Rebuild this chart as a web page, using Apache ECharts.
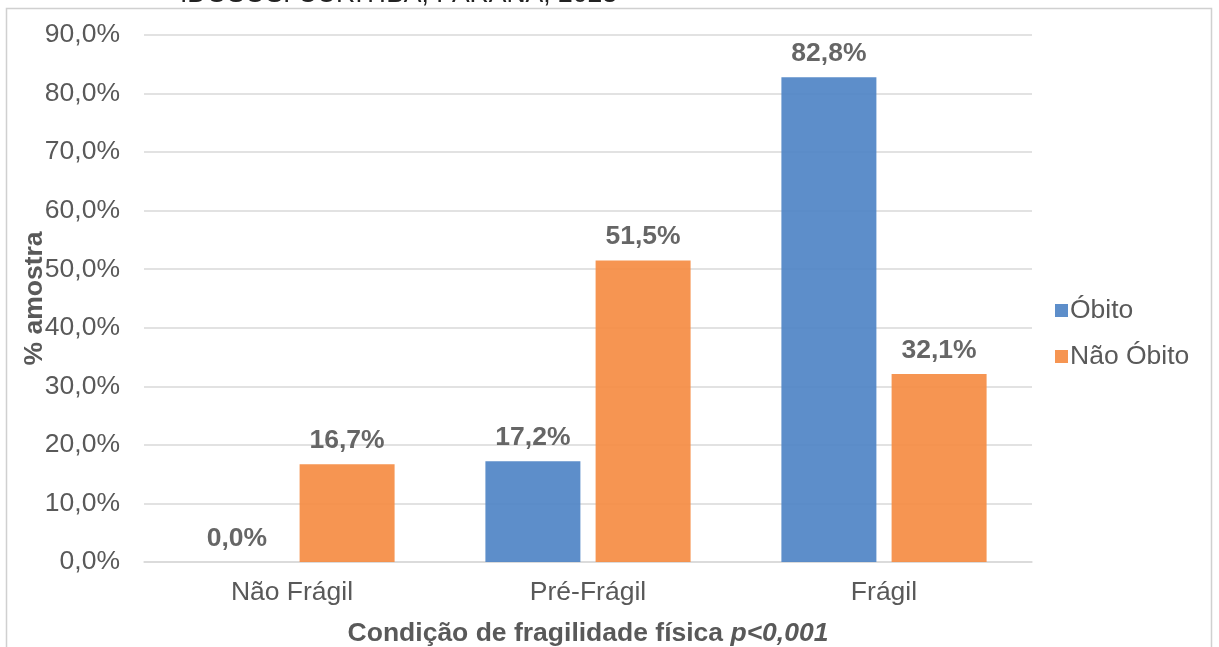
<!DOCTYPE html>
<html>
<head>
<meta charset="utf-8">
<script src="https://cdn.jsdelivr.net/npm/echarts@6/dist/echarts.min.js"></script>
<style>
  html, body { margin: 0; padding: 0; background: #fff; }
  #chart { width: 1219px; height: 647px; }
</style>
</head>
<body>
<div id="chart"></div>
<script>
// Fragility categories and the share of each outcome group (%)
const categories = ['Não Frágil', 'Pré-Frágil', 'Frágil'];
const seriesNames = ['Óbito', 'Não Óbito'];
const obito = [0.0, 17.2, 82.8];
const naoObito = [16.7, 51.5, 32.1];
const yTicks = { min: 0, max: 90, interval: 10 };

const FONT = '"Liberation Sans", Arial, sans-serif';
const GREY = '#595959';
const FS = 26.5;

const fmt = v => v.toFixed(1).replace('.', ',') + '%';

const chart = echarts.init(document.getElementById('chart'), null, { renderer: 'canvas' });

const labelStyle = {
  show: true,
  position: 'top',
  distance: 10,
  fontFamily: FONT,
  fontSize: FS,
  fontWeight: 'bold',
  color: GREY,
  formatter: p => fmt(p.value)
};

chart.setOption({
  animation: false,
  backgroundColor: '#fff',
  textStyle: { fontFamily: FONT },
  graphic: [
    {
      type: 'rect',
      shape: { x: 6.5, y: 8.5, width: 1205, height: 700 },
      style: { fill: 'none', stroke: '#d0d0d0', lineWidth: 1.5 },
      z: -1
    },
    {
      type: 'text',
      style: {
        x: 180,
        y: -5,
        verticalAlign: 'middle',
        text: 'IDOSOS. CURITIBA, PARANÁ, 2023',
        font: FS + 'px ' + FONT,
        fill: '#222'
      }
    }
  ],
  grid: { left: 144, right: 187, top: 35, bottom: 85, outerBoundsMode: 'none', containLabel: false },
  legend: {
    orient: 'vertical',
    left: 1050,
    top: 292,
    itemWidth: 13,
    itemHeight: 13,
    itemGap: 19,
    icon: 'rect',
    textStyle: { fontFamily: FONT, fontSize: FS, color: GREY, padding: [0, 0, 0, -3] },
    data: seriesNames
  },
  xAxis: {
    type: 'category',
    data: categories,
    axisLine: { lineStyle: { color: '#d9d9d9', width: 1.5 } },
    axisTick: { show: false },
    axisLabel: { fontFamily: FONT, fontSize: FS, color: GREY, margin: 17 },
    name: '{b|Condição de fragilidade física }{i|p<0,001}',
    nameLocation: 'middle',
    nameGap: 58,
    nameMoveOverlap: false,
    nameTextStyle: {
      rich: {
        b: { fontFamily: FONT, fontSize: FS, fontWeight: 'bold', color: GREY },
        i: { fontFamily: FONT, fontSize: FS, fontWeight: 'bold', fontStyle: 'italic', color: GREY }
      }
    }
  },
  yAxis: {
    type: 'value',
    min: yTicks.min,
    max: yTicks.max,
    interval: yTicks.interval,
    axisLine: { show: false },
    axisTick: { show: false },
    splitLine: { lineStyle: { color: '#d9d9d9', width: 1.5 } },
    axisLabel: {
      fontFamily: FONT, fontSize: FS, color: GREY, margin: 24,
      formatter: v => fmt(v)
    },
    name: '% amostra',
    nameLocation: 'middle',
    nameGap: 96,
    nameMoveOverlap: false,
    nameTextStyle: { fontFamily: FONT, fontSize: FS, fontWeight: 'bold', color: GREY }
  },
  series: [
    {
      name: seriesNames[0],
      type: 'bar',
      data: obito,
      barWidth: 95,
      barGap: '16%',
      itemStyle: { color: '#4f84c6', opacity: 0.92 },
      label: labelStyle
    },
    {
      name: seriesNames[1],
      type: 'bar',
      data: naoObito,
      barWidth: 95,
      barGap: '16%',
      itemStyle: { color: '#f58c43', opacity: 0.92 },
      label: labelStyle
    }
  ]
});
</script>
</body>
</html>
